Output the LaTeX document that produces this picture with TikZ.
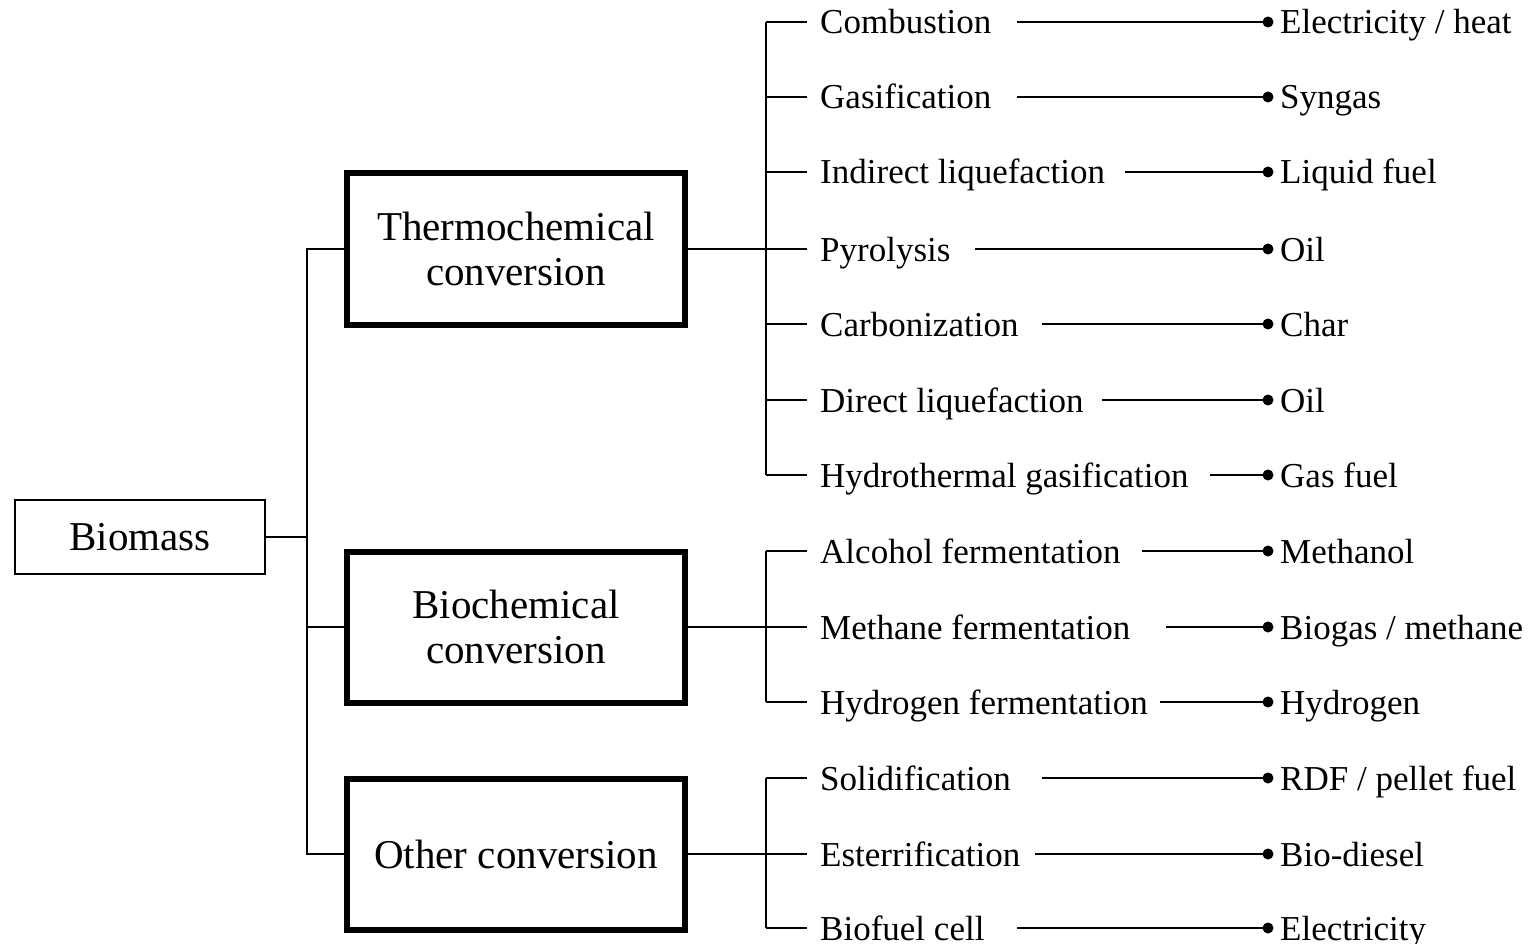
\documentclass[tikz,border=0pt]{standalone}
\usepackage{fontspec}
\setmainfont{Liberation Serif}
\usetikzlibrary{calc}

% one process row: #1 index, #2 row height, #3 process name,
% #4 where the product line starts, #5 product name
\newcommand\flowrow[5]{%
  \coordinate (s#1) at (807,#2);
  \node[item, anchor=base west] (it#1) at (820,#2+12) {#3};
  \coordinate (e#1) at (#4,#2);
  \coordinate (d#1) at (1268,#2);
  \draw[wire] (s#1 -| tx) -- (s#1);
  \draw[wire] (e#1) -- (d#1);
  \fill (d#1) circle (5.5pt);
  \node[item, anchor=base west] (p#1) at (1280,#2+12) {#5};
}

\begin{document}
\begin{tikzpicture}[x=1pt, y=-1pt,
  wire/.style={line width=1.6pt},
  item/.style={inner sep=0pt, font=\fontsize{35}{40}\selectfont},
  srcbox/.style={draw, line width=2pt, minimum width=250pt, minimum height=74pt,
    font=\fontsize{41}{45}\selectfont},
  stagebox/.style={draw, line width=6pt, minimum width=338pt, minimum height=151pt,
    align=center, font=\fontsize{41}{45}\selectfont},
]
\useasboundingbox (0,0) rectangle (1538,944);

% source and conversion routes
\node[srcbox] (bio) at (140,537) {Biomass};
\node[stagebox] (thermo) at (516,249) {Thermochemical\\conversion};
\node[stagebox] (bioc) at (516,627) {Biochemical\\conversion};
\node[stagebox] (other) at (516,854) {Other conversion};

\coordinate (j0) at (307,537);
\draw[wire] (bio.east) -- (j0);
\draw[wire] (thermo.west) -| (j0) |- (other.west);
\draw[wire] (bioc.west) -- (bioc.west -| j0);

% bracket column for the processes
\coordinate (tx) at (766,0);

\flowrow{1}{22}{Combustion}{1017}{Electricity / heat}
\flowrow{2}{97}{Gasification}{1017}{Syngas}
\flowrow{3}{172}{Indirect liquefaction}{1125}{Liquid fuel}
\flowrow{4}{249}{Pyrolysis}{975}{Oil}
\flowrow{5}{324}{Carbonization}{1042}{Char}
\flowrow{6}{400}{Direct liquefaction}{1102}{Oil}
\flowrow{7}{475}{Hydrothermal gasification}{1210}{Gas fuel}
\flowrow{8}{551}{Alcohol fermentation}{1142}{Methanol}
\flowrow{9}{627}{Methane fermentation}{1166}{Biogas / methane}
\flowrow{10}{702}{Hydrogen fermentation}{1160}{Hydrogen}
\flowrow{11}{778}{Solidification}{1042}{RDF / pellet fuel}
\flowrow{12}{854}{Esterrification}{1035}{Bio-diesel}
\flowrow{13}{928}{Biofuel cell}{1017}{Electricity}

\draw[wire] (s1 -| tx) -- (s7 -| tx);
\draw[wire] (s8 -| tx) -- (s10 -| tx);
\draw[wire] (s11 -| tx) -- (s13 -| tx);
\draw[wire] (thermo.east) -- (s4 -| tx);
\draw[wire] (bioc.east) -- (s9 -| tx);
\draw[wire] (other.east) -- (s12 -| tx);
\end{tikzpicture}
\end{document}
